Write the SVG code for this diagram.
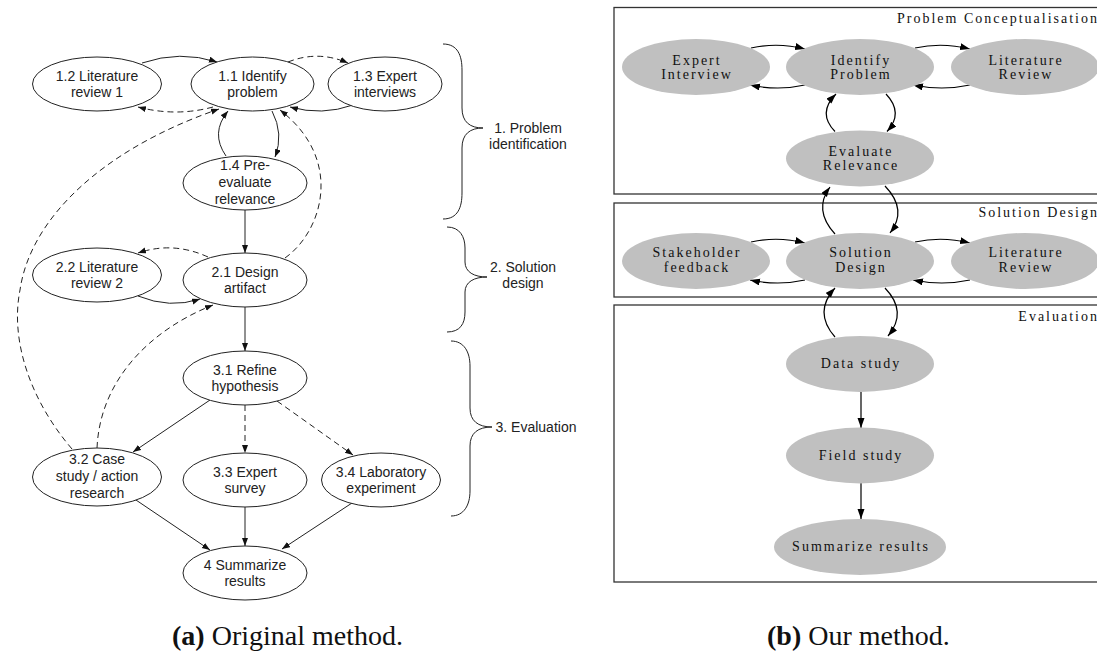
<svg xmlns="http://www.w3.org/2000/svg" width="1097" height="653" viewBox="0 0 1097 653">
<style>
.lnode ellipse{fill:#fff;stroke:#222;stroke-width:1}
.lt{font-family:"Liberation Sans",Arial,sans-serif;font-size:14px;fill:#222;text-anchor:middle}
.le{fill:none;stroke:#222;stroke-width:1;marker-end:url(#ah)}
.dash{stroke-dasharray:6,4}
.brace{fill:none;stroke:#222;stroke-width:1}
.rnode ellipse{fill:#c0c0c0;stroke:none}
.rt{font-family:"Liberation Serif","Times New Roman",serif;font-size:14px;fill:#111;text-anchor:middle;letter-spacing:2px}
.re{fill:none;stroke:#000;stroke-width:1.2;marker-end:url(#ahb)}
.box{fill:none;stroke:#333;stroke-width:1.3}
.cap{font-family:"Liberation Serif","Times New Roman",serif;font-size:28px;fill:#111}
</style>
<defs>
<marker id="ah" markerUnits="userSpaceOnUse" markerWidth="9" markerHeight="7" refX="8" refY="3" orient="auto"><path d="M0,0 L8,3 L0,6 z" fill="#111"/></marker>
<marker id="ahb" markerUnits="userSpaceOnUse" markerWidth="11" markerHeight="8" refX="10" refY="3.5" orient="auto"><path d="M0,0 L10,3.5 L0,7 z" fill="#000"/></marker>
</defs>
<rect width="1097" height="653" fill="#fff"/>

<!-- Left diagram connectors -->
<g id="left-connectors">
<path class="le" d="M142,63 Q180,50 217,62"/>
<path class="le dash" d="M213,107 Q176,117 138,107"/>
<path class="le dash" d="M288,62 Q318,50 348,63"/>
<path class="le" d="M353,105 Q322,116 290,107"/>
<path class="le" d="M226,156 Q210,133 228,111"/>
<path class="le" d="M272,111 Q284,134 275,157"/>
<path class="le" d="M245,210 L245,253"/>
<path class="le dash" d="M285,258 C322,232 345,160 280,110"/>
<path class="le dash" d="M208,257 Q173,241 138,253"/>
<path class="le" d="M138,296 Q170,309 200,299"/>
<path class="le" d="M245,307 L245,351"/>
<path class="le" d="M210,400 L133,452"/>
<path class="le dash" d="M245,405 L245,453"/>
<path class="le dash" d="M277,401 L353,455"/>
<path class="le dash" d="M72,449 C30,400 10,340 20,290 C30,220 100,150 219,109"/>
<path class="le dash" d="M97,448 C100,380 150,330 213,305"/>
<path class="le" d="M133,498 L210,550"/>
<path class="le" d="M245,507 L245,546"/>
<path class="le" d="M352,503 L282,549"/>
</g>

<g id="n12" class="lnode"><ellipse cx="97" cy="84" rx="64.5" ry="27"/><text class="lt" x="97" y="81">1.2 Literature</text><text class="lt" x="97" y="97">review 1</text></g>
<g id="n11" class="lnode"><ellipse cx="252.5" cy="84" rx="61.5" ry="27"/><text class="lt" x="252.5" y="81">1.1 Identify</text><text class="lt" x="252.5" y="97">problem</text></g>
<g id="n13" class="lnode"><ellipse cx="385" cy="84" rx="57" ry="27"/><text class="lt" x="385" y="81">1.3 Expert</text><text class="lt" x="385" y="97">interviews</text></g>
<g id="n14" class="lnode"><ellipse cx="245" cy="183" rx="62" ry="27"/><text class="lt" x="245" y="170">1.4 Pre-</text><text class="lt" x="245" y="187">evaluate</text><text class="lt" x="245" y="204">relevance</text></g>
<g id="n22" class="lnode"><ellipse cx="97" cy="275" rx="64.5" ry="27"/><text class="lt" x="97" y="272">2.2 Literature</text><text class="lt" x="97" y="288">review 2</text></g>
<g id="n21" class="lnode"><ellipse cx="245" cy="280" rx="62" ry="27"/><text class="lt" x="245" y="277">2.1 Design</text><text class="lt" x="245" y="293">artifact</text></g>
<g id="n31" class="lnode"><ellipse cx="245" cy="378" rx="62" ry="27"/><text class="lt" x="245" y="375">3.1 Refine</text><text class="lt" x="245" y="391">hypothesis</text></g>
<g id="n32" class="lnode"><ellipse cx="97" cy="477" rx="64.5" ry="29"/><text class="lt" x="97" y="464">3.2 Case</text><text class="lt" x="97" y="481">study / action</text><text class="lt" x="97" y="498">research</text></g>
<g id="n33" class="lnode"><ellipse cx="245" cy="480" rx="62" ry="27"/><text class="lt" x="245" y="477">3.3 Expert</text><text class="lt" x="245" y="493">survey</text></g>
<g id="n34" class="lnode"><ellipse cx="381" cy="480" rx="59.5" ry="27"/><text class="lt" x="381" y="477">3.4 Laboratory</text><text class="lt" x="381" y="493">experiment</text></g>
<g id="n4" class="lnode"><ellipse cx="245" cy="573" rx="62" ry="27"/><text class="lt" x="245" y="570">4 Summarize</text><text class="lt" x="245" y="586">results</text></g>

<!-- Braces -->
<g id="brace1"><path class="brace" d="M443,44 C458,44 462,56 462,70 L462,108 C462,122 470,128 483,128 C470,128 462,134 462,148 L462,193 C462,207 458,219 443,219"/><text class="lt" x="528" y="133">1. Problem</text><text class="lt" x="528" y="149">identification</text></g>
<g id="brace2"><path class="brace" d="M447,227 C460,227 465,237 465,248 L465,262 C465,272 474,277 487,277 C474,277 465,282 465,292 L465,312 C465,324 460,332 447,332"/><text class="lt" x="523" y="272">2. Solution</text><text class="lt" x="523" y="288">design</text></g>
<g id="brace3"><path class="brace" d="M451,341 C464,341 470,352 470,366 L470,408 C470,421 478,427 492,427 C478,427 470,433 470,446 L470,491 C470,505 464,516 451,516"/><text class="lt" x="536" y="432">3. Evaluation</text></g>

<!-- Right diagram boxes -->
<g id="clusters">
<rect class="box" x="614" y="7.5" width="500" height="186.5"/>
<rect class="box" x="614" y="203" width="500" height="94"/>
<rect class="box" x="614" y="305" width="500" height="277"/>
<text class="rt" style="text-anchor:end" x="1099" y="23">Problem Conceptualisation</text>
<text class="rt" style="text-anchor:end" x="1099" y="217">Solution Design</text>
<text class="rt" style="text-anchor:end" x="1099" y="321">Evaluation</text>
</g>

<g id="right-connectors">
<path class="re" d="M751,48 Q778,42 805,49"/>
<path class="re" d="M805,85 Q778,91 750,85"/>
<path class="re" d="M915,48 Q942,42 970,49"/>
<path class="re" d="M970,85 Q942,91 913,85"/>
<path class="re" d="M835,131.5 Q817,113 836,94"/>
<path class="re" d="M886,94 Q904,113 887,131.5"/>
<path class="re" d="M835,234 Q813,210 830,187"/>
<path class="re" d="M885,186 Q908,210 890,233"/>
<path class="re" d="M751,242 Q778,236 805,243"/>
<path class="re" d="M805,280 Q778,286 750,280"/>
<path class="re" d="M915,242 Q942,236 970,243"/>
<path class="re" d="M970,280 Q942,286 913,280"/>
<path class="re" d="M835,337 Q813,312 835,288"/>
<path class="re" d="M885,288 Q908,312 888,336"/>
<path class="re" d="M861,392 L861,428"/>
<path class="re" d="M861,483 L861,519"/>
</g>

<g id="r-expert" class="rnode"><ellipse cx="696" cy="67" rx="74" ry="28"/><text class="rt" x="697" y="65">Expert</text><text class="rt" x="697" y="79">Interview</text></g>
<g id="r-identify" class="rnode"><ellipse cx="860" cy="67" rx="74" ry="28"/><text class="rt" x="861" y="65">Identify</text><text class="rt" x="861" y="79">Problem</text></g>
<g id="r-lit1" class="rnode"><ellipse cx="1025" cy="67" rx="74" ry="28"/><text class="rt" x="1026" y="65">Literature</text><text class="rt" x="1026" y="79">Review</text></g>
<g id="r-eval" class="rnode"><ellipse cx="860" cy="158.5" rx="74" ry="28"/><text class="rt" x="861" y="156">Evaluate</text><text class="rt" x="861" y="170">Relevance</text></g>
<g id="r-stake" class="rnode"><ellipse cx="696" cy="261" rx="74" ry="28"/><text class="rt" x="697" y="257">Stakeholder</text><text class="rt" x="697" y="272">feedback</text></g>
<g id="r-sol" class="rnode"><ellipse cx="860" cy="261" rx="74" ry="28"/><text class="rt" x="861" y="257">Solution</text><text class="rt" x="861" y="272">Design</text></g>
<g id="r-lit2" class="rnode"><ellipse cx="1025" cy="261" rx="74" ry="28"/><text class="rt" x="1026" y="257">Literature</text><text class="rt" x="1026" y="272">Review</text></g>
<g id="r-data" class="rnode"><ellipse cx="860" cy="364" rx="74" ry="28"/><text class="rt" x="861" y="368">Data study</text></g>
<g id="r-field" class="rnode"><ellipse cx="860" cy="455.5" rx="74" ry="28"/><text class="rt" x="861" y="460">Field study</text></g>
<g id="r-sum" class="rnode"><ellipse cx="860" cy="547" rx="86" ry="28"/><text class="rt" x="861" y="551">Summarize results</text></g>

<text class="cap" x="172" y="645"><tspan font-weight="bold">(a)</tspan> Original method.</text>
<text class="cap" x="767" y="645"><tspan font-weight="bold">(b)</tspan> Our method.</text>
</svg>
